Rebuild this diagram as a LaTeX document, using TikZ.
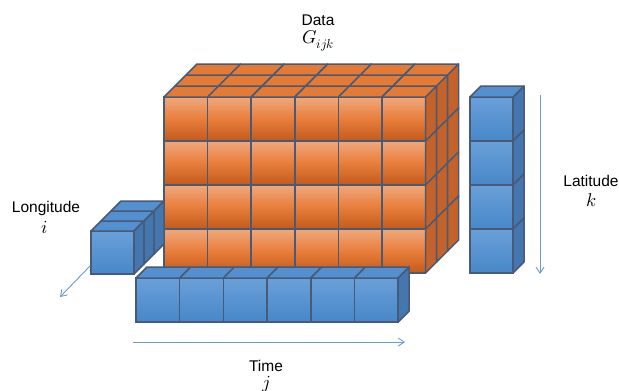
\documentclass[tikz,border=0pt]{standalone}
\usepackage{fontspec}
\usepackage{unicode-math}
\setmainfont{Liberation Sans}
\setmathfont{Latin Modern Math}
\usetikzlibrary{arrows.meta}
\definecolor{edgec}{HTML}{475A78}
\definecolor{orgtop}{HTML}{F0A87C}
\definecolor{orgmid}{HTML}{E87E3C}
\definecolor{orgbot}{HTML}{C35A1A}
\definecolor{orgface}{HTML}{E57A35}
\definecolor{orgside}{HTML}{C4622A}
\definecolor{blutop}{HTML}{6AA0D8}
\definecolor{blubot}{HTML}{4787C9}
\definecolor{bluface}{HTML}{5490D0}
\definecolor{bluside}{HTML}{4477AF}
\definecolor{axisc}{HTML}{6A9BD0}
\tikzset{
  frontorg/.style={draw=edgec, line width=1.5pt, top color=orgtop, bottom color=orgbot, middle color=orgmid},
  toporg/.style={draw=edgec, line width=1.5pt, fill=orgface, line join=round},
  sideorg/.style={draw=edgec, line width=1.5pt, fill=orgside, line join=round},
  frontblu/.style={draw=edgec, line width=1.5pt, top color=blutop, bottom color=blubot},
  topblu/.style={draw=edgec, line width=1.5pt, fill=bluface, line join=round},
  sideblu/.style={draw=edgec, line width=1.5pt, fill=bluside, line join=round},
  axis/.style={draw=axisc, line width=0.9pt, -{Straight Barb[length=6pt,width=8pt]}},
  lbl/.style={font=\fontsize{15.5}{18}\selectfont, inner sep=0pt},
  mlbl/.style={font=\fontsize{18.5}{20}\selectfont, inner sep=0pt}
}
\begin{document}
\begin{tikzpicture}[x=1pt,y=-1pt]
\useasboundingbox (0,0) rectangle (619,391);
% data block
\foreach \c in {0,...,5}
  \foreach \r in {0,...,3}
    \draw [frontorg] ({164+43.6*\c},{97+44*\r}) rectangle ++(43.6,44);
\foreach \c in {0,...,5}
  \foreach \l in {0,1,2}
    \draw [toporg] ({164+43.6*\c+11*\l},{97-11*\l}) -- ++(43.6,0) -- ++(11,-11) -- ++(-43.6,0) -- cycle;
\foreach \r in {0,...,3}
  \foreach \l in {0,1,2}
    \draw [sideorg] ({425.6+11*\l},{97+44*\r-11*\l}) -- ++(11,-11) -- ++(0,44) -- ++(-11,11) -- cycle;
% longitude
\draw [frontblu] (91,231) rectangle ++(43,43);
\foreach \l in {0,1,2} {
  \draw [topblu] ({91+10*\l},{231-10*\l}) -- ++(43,0) -- ++(10,-10) -- ++(-43,0) -- cycle;
  \draw [sideblu] ({134+10*\l},{231-10*\l}) -- ++(10,-10) -- ++(0,43) -- ++(-10,10) -- cycle;
}
% latitude
\foreach \r in {0,...,3} {
  \draw [frontblu] (470,{97+44*\r}) rectangle ++(43,44);
  \draw [sideblu] (513,{97+44*\r}) -- ++(11,-11) -- ++(0,44) -- ++(-11,11) -- cycle;
}
\draw [topblu] (470,97) -- ++(43,0) -- ++(11,-11) -- ++(-43,0) -- cycle;
% time
\foreach \c in {0,...,5} {
  \draw [frontblu] ({136+43.7*\c},278) rectangle ++(43.7,44);
  \draw [topblu] ({136+43.7*\c},278) -- ++(43.7,0) -- ++(11,-11) -- ++(-43.7,0) -- cycle;
}
\draw [sideblu] (398.2,278) -- ++(11,-11) -- ++(0,44) -- ++(-11,11) -- cycle;
% axes
\coordinate (lonS) at (90,266);
\coordinate (lonE) at (60,297);
\coordinate (latS) at (540,95);
\coordinate (latE) at (540,274);
\coordinate (timS) at (133,342);
\coordinate (timE) at (405,342);
\draw [axis] (lonS) -- (lonE);
\draw [axis] (latS) -- (latE);
\draw [axis] (timS) -- (timE);
% labels
\node [lbl] (data) at (318,20) {Data};
\node [mlbl] (datag) at (318,41) {$G_{ijk}$};
\node [lbl] (lon) at (46,208) {Longitude};
\node [mlbl] (loni) at (45,227) {$i$};
\node [lbl] (lat) at (591,181) {Latitude};
\node [mlbl] (latk) at (591,200) {$k$};
\node [lbl] (tim) at (266,366) {Time};
\node [mlbl] (timj) at (266,384) {$j$};
\end{tikzpicture}
\end{document}
